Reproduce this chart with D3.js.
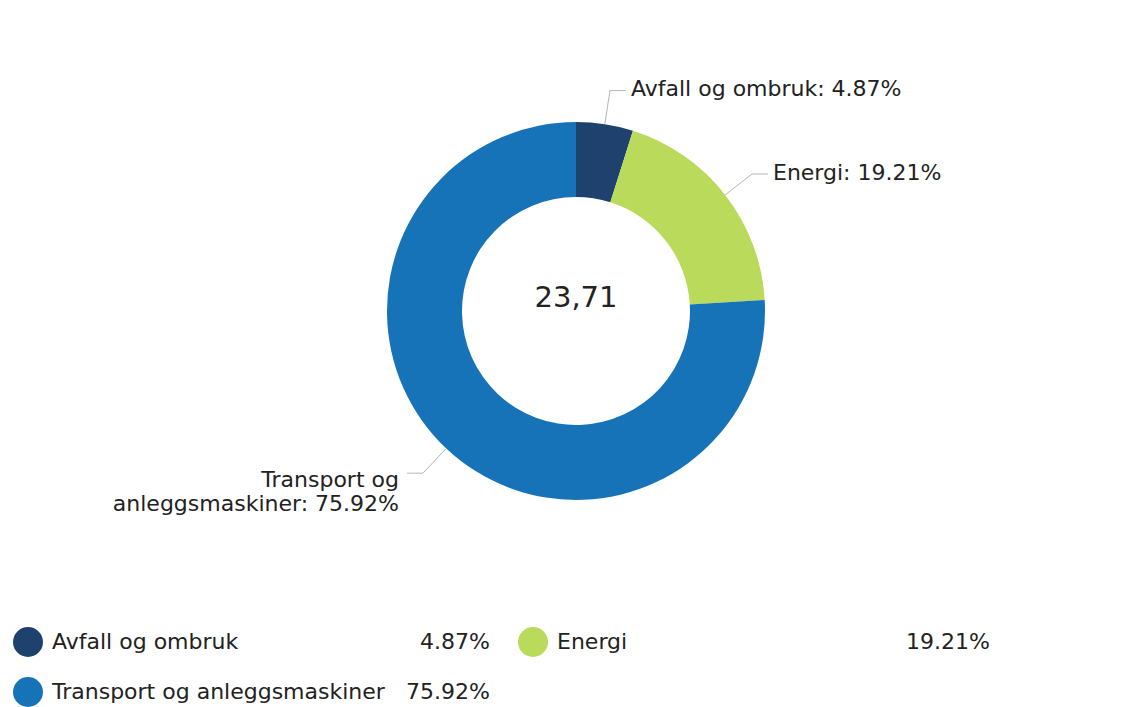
<!DOCTYPE html>
<html>
<head>
  <style type="text/css">
    body { margin: 0; background: #fff; }
    svg text { font-family: "DejaVu Sans", Verdana, sans-serif; fill: #222; }
  </style>
</head>
<body>
  <svg width="1137" height="707" id="chart"></svg>

  <script src="https://d3js.org/d3.v7.min.js"></script>
  <script>

// shares of total emissions, clockwise from 12 o'clock
const categories = ['Avfall og ombruk', 'Energi', 'Transport og anleggsmaskiner']
const shares = [4.87, 19.21, 75.92]
const colors = ['#1f416e', '#b9da5a', '#1673b8']
const labelLines = [['Avfall og ombruk: 4.87%'], ['Energi: 19.21%'], ['Transport og', 'anleggsmaskiner: 75.92%']]
const legendValues = ['4.87%', '19.21%', '75.92%']
const total = '23,71'

function translate(x, y) { return 'translate(' + x + ',' + y + ')'; }

let svg = d3.select('#chart')
let cx = 576, cy = 311
let outer = 189, inner = 114

let data = categories.map((c, i) => ({ name: c, value: shares[i], color: colors[i], lines: labelLines[i] }))
let pie = d3.pie().sort(null).value(d => d.value)
let arc = d3.arc().innerRadius(inner).outerRadius(outer)
let arcs = pie(data)

let g = svg.append('g').attr('transform', translate(cx, cy))

g.selectAll('path.slice')
  .data(arcs)
  .enter()
  .append('path')
    .attr('class', 'slice')
    .attr('d', arc)
    .attr('fill', d => d.data.color)

g.append('text')
  .attr('text-anchor', 'middle')
  .attr('dy', '0.35em')
  .attr('y', -14)
  .attr('font-size', '29px')
  .text(total)

// connectors and labels
let edge = d3.arc().innerRadius(outer).outerRadius(outer)
let bend = d3.arc().innerRadius(outer + 34).outerRadius(outer + 34)

arcs.forEach(d => {
  let mid = (d.startAngle + d.endAngle) / 2
  let p1 = edge.centroid({ startAngle: mid, endAngle: mid })
  let p2 = bend.centroid({ startAngle: mid, endAngle: mid })
  let right = Math.sin(mid) > 0
  let p3 = [p2[0] + (right ? 16 : -16), p2[1]]

  g.append('path')
    .attr('d', d3.line()([p1, p2, p3]))
    .attr('fill', 'none')
    .attr('stroke', '#b5b5b5')
    .attr('stroke-width', 1)

  let tx = p3[0] + (right ? 5 : -8)
  let lines = d.data.lines
  let t = g.append('text')
    .attr('text-anchor', right ? 'start' : 'end')
    .attr('font-size', '22px')
  lines.forEach((l, i) => {
    t.append('tspan')
      .attr('x', tx)
      .attr('y', p2[1] + (lines.length > 1 ? 6 : -2) + i * 24)
      .attr('dy', '0.35em')
      .text(l)
  })
})

// legend
let legendPos = [[28, 642, 490], [533, 642, 990], [28, 692, 490]]
let legend = svg.append('g')
data.forEach((d, i) => {
  let [x, y, vx] = legendPos[i]
  let item = legend.append('g').attr('transform', translate(x, y))
  item.append('circle').attr('r', 15).attr('fill', d.color)
  item.append('text')
    .attr('x', 24).attr('y', -1).attr('dy', '0.35em')
    .attr('font-size', '22px')
    .text(d.name)
  item.append('text')
    .attr('x', vx - x).attr('y', -1).attr('dy', '0.35em')
    .attr('text-anchor', 'end')
    .attr('font-size', '22px')
    .text(legendValues[i])
})

  </script>
</body>
</html>
